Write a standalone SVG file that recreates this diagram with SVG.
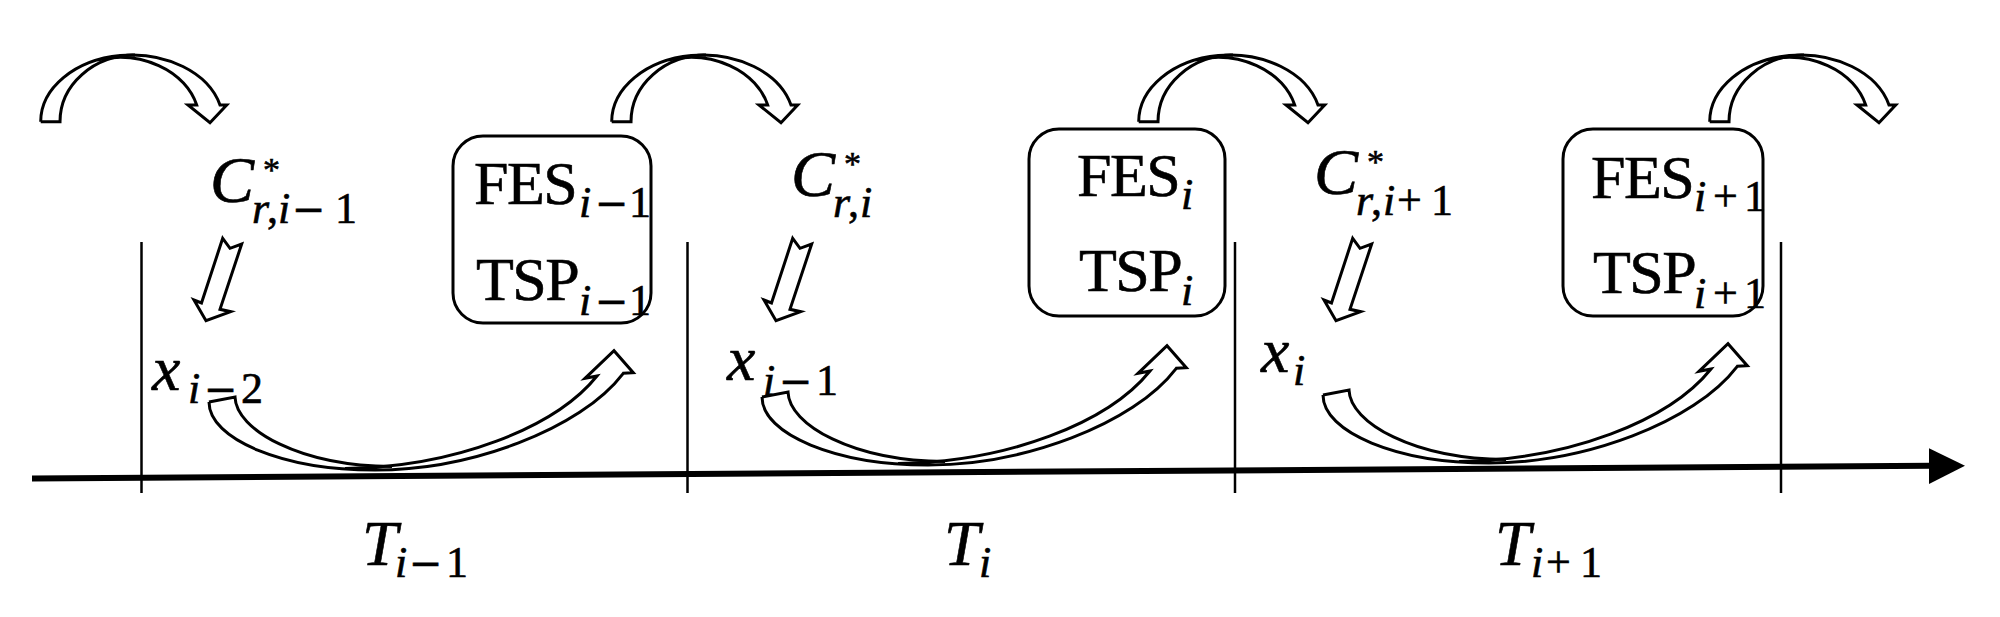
<svg xmlns="http://www.w3.org/2000/svg" xmlns:xlink="http://www.w3.org/1999/xlink" width="2000" height="617" viewBox="0 0 2000 617">
<style>
  .t { font-family: "Liberation Serif", "DejaVu Serif", serif; font-size: 64px; fill: #000; stroke: #000; stroke-width: 0.6; }
  .b { font-size: 62px; letter-spacing: -1.5px; }
  .cc { font-size: 66px; }
  .s { font-size: 44px; letter-spacing: 0; }
  .o { font-family: "DejaVu Serif", "Liberation Serif", serif; font-size: 40px; letter-spacing: 0; font-style: normal; }
  .a { font-size: 34px; }
  .i { font-style: italic; }
  .arr { fill: none; stroke: #000; stroke-width: 3; stroke-linejoin: miter; }
  .dn { fill: #fff; stroke: #000; stroke-width: 3; stroke-linejoin: miter; }
  .vl { stroke: #000; stroke-width: 2.5; }
  .box { fill: none; stroke: #000; stroke-width: 3; }
</style>
<defs>
  <g id="topArc">
    <path class="arr" d="M 40.7,121.7 A 91.1 66.7 0 0 1 220,105 L 226.7,105 L 210,122.7 L 188,105 L 196.7,105 A 79.5 64 0 0 0 97,60.1"/>
    <path class="arr" d="M 40.7,121.7 L 60,121.7 A 75 66.7 0 0 1 135,55"/>
  </g>
  <polygon id="dnArrow" class="dn" points="222.7,238.3 230,248.3 241.7,244 220,309.3 230.7,311.7 206,320.7 194,300 201.5,303"/>
  <g id="botArc">
    <path class="arr" d="M 209,402 C 209,439.5 283.4,470 375,470 C 470,470 580,430 623.3,373.3 L 633.3,372.7 L 614,350.7 L 585,378.3 L 597,376 C 555,428 455,467 345,468.5"/>
    <path class="arr" d="M 209,402 L 235,397 C 236,430 300,466 392,466.5"/>
  </g>
</defs>

<g id="timeline">
  <line x1="32" y1="478.5" x2="1932" y2="465.7" stroke="#000" stroke-width="6"/>
  <polygon points="1929,448.3 1965,465.7 1929,484" fill="#000"/>
  <line class="vl" x1="141.5" y1="242" x2="141.5" y2="493"/>
  <line class="vl" x1="687.5" y1="242" x2="687.5" y2="493"/>
  <line class="vl" x1="1235" y1="242" x2="1235" y2="493"/>
  <line class="vl" x1="1781" y1="242" x2="1781" y2="493"/>
</g>

<g id="connectors">
  <use xlink:href="#topArc"/>
  <use xlink:href="#topArc" transform="translate(571,0)"/>
  <use xlink:href="#topArc" transform="translate(1098,0)"/>
  <use xlink:href="#topArc" transform="translate(1669,0)"/>
  <use xlink:href="#dnArrow"/>
  <use xlink:href="#dnArrow" transform="translate(570,0)"/>
  <use xlink:href="#dnArrow" transform="translate(1130,0)"/>
  <use xlink:href="#botArc"/>
  <use xlink:href="#botArc" transform="translate(553,-5)"/>
  <use xlink:href="#botArc" transform="translate(1114,-7)"/>
</g>

<g id="c1">
  <text class="t"><tspan class="cc i" x="210" y="202">C</tspan><tspan class="a" x="263" y="181">*</tspan><tspan class="s i" x="252" y="223">r</tspan><tspan class="s" x="267" y="223">,</tspan><tspan class="s i" x="278" y="223">i</tspan><tspan class="o" x="292" y="223">−</tspan><tspan class="s" x="335" y="223">1</tspan></text>
</g>
<g id="c2">
  <text class="t"><tspan class="cc i" x="791" y="196">C</tspan><tspan class="a" x="844" y="175">*</tspan><tspan class="s i" x="833" y="217">r</tspan><tspan class="s" x="848" y="217">,</tspan><tspan class="s i" x="860" y="217">i</tspan></text>
</g>
<g id="c3">
  <text class="t"><tspan class="cc i" x="1314" y="194">C</tspan><tspan class="a" x="1367" y="173">*</tspan><tspan class="s i" x="1356" y="215">r</tspan><tspan class="s" x="1371" y="215">,</tspan><tspan class="s i" x="1383" y="215">i</tspan><tspan class="s" x="1397" y="215">+</tspan><tspan class="s" x="1431" y="215">1</tspan></text>
</g>

<g id="box1">
  <rect class="box" x="453" y="136" width="198" height="187" rx="30" ry="30"/>
  <text class="t b"><tspan x="474" y="204">FES</tspan><tspan class="s i" x="579" y="217">i</tspan><tspan class="o" x="595" y="217">−</tspan><tspan class="s" x="629" y="217">1</tspan></text>
  <text class="t b"><tspan x="476" y="300">TSP</tspan><tspan class="s i" x="579" y="315">i</tspan><tspan class="o" x="595" y="315">−</tspan><tspan class="s" x="629" y="315">1</tspan></text>
</g>
<g id="box2">
  <rect class="box" x="1029" y="129" width="196" height="187" rx="30" ry="30"/>
  <text class="t b"><tspan x="1077" y="196">FES</tspan><tspan class="s i" x="1181" y="209">i</tspan></text>
  <text class="t b"><tspan x="1079" y="291">TSP</tspan><tspan class="s i" x="1181" y="305">i</tspan></text>
</g>
<g id="box3">
  <rect class="box" x="1563" y="129" width="200" height="187" rx="30" ry="30"/>
  <text class="t b"><tspan x="1591" y="198">FES</tspan><tspan class="s i" x="1694" y="211">i</tspan><tspan class="s" x="1713" y="211">+</tspan><tspan class="s" x="1744" y="211">1</tspan></text>
  <text class="t b"><tspan x="1593" y="293">TSP</tspan><tspan class="s i" x="1694" y="308">i</tspan><tspan class="s" x="1713" y="308">+</tspan><tspan class="s" x="1744" y="308">1</tspan></text>
</g>

<g id="x1">
  <text class="t"><tspan class="i" x="152" y="390">x</tspan><tspan class="s i" x="188" y="403">i</tspan><tspan class="o" x="204" y="403">−</tspan><tspan class="s" x="241" y="403">2</tspan></text>
</g>
<g id="x2">
  <text class="t"><tspan class="i" x="727" y="380">x</tspan><tspan class="s i" x="763" y="395">i</tspan><tspan class="o" x="779" y="395">−</tspan><tspan class="s" x="816" y="395">1</tspan></text>
</g>
<g id="x3">
  <text class="t"><tspan class="i" x="1261" y="372">x</tspan><tspan class="s i" x="1293" y="385">i</tspan></text>
</g>

<g id="T1">
  <text class="t"><tspan class="i" x="362" y="565">T</tspan><tspan class="s i" x="395" y="577">i</tspan><tspan class="o" x="409" y="577">−</tspan><tspan class="s" x="446" y="577">1</tspan></text>
</g>
<g id="T2">
  <text class="t"><tspan class="i" x="944" y="565">T</tspan><tspan class="s i" x="979" y="577">i</tspan></text>
</g>
<g id="T3">
  <text class="t"><tspan class="i" x="1495" y="565">T</tspan><tspan class="s i" x="1531" y="577">i</tspan><tspan class="s" x="1546" y="577">+</tspan><tspan class="s" x="1580" y="577">1</tspan></text>
</g>
</svg>
